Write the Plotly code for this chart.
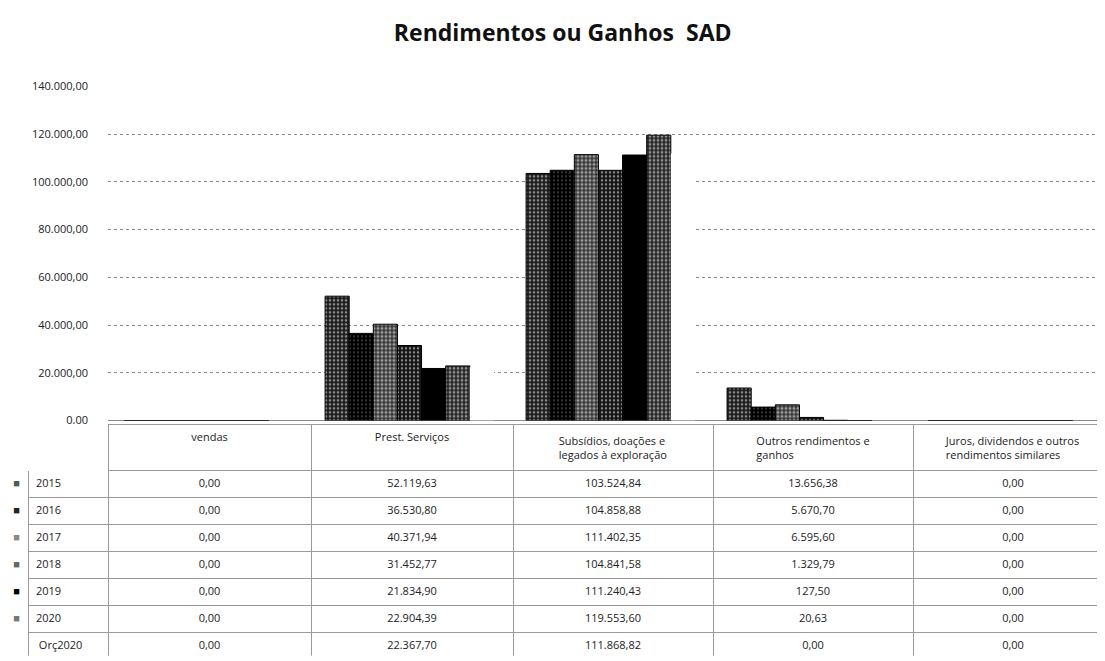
import plotly.graph_objects as go

CATEGORIAS = ['vendas', 'Prest. Serviços', 'Subsídios, doações e legados à exploração',
              'Outros rendimentos e ganhos', 'Juros, dividendos e outros rendimentos similares']
CABECALHOS = ['vendas', 'Prest. Serviços', 'Subsídios, doações e<br>legados à exploração',
              'Outros rendimentos e<br>ganhos', 'Juros, dividendos e outros<br>rendimentos similares']
ANOS = ['2015', '2016', '2017', '2018', '2019', '2020', 'Orç2020']

V2015 = [0.00, 52119.63, 103524.84, 13656.38, 0.00]
V2016 = [0.00, 36530.80, 104858.88, 5670.70, 0.00]
V2017 = [0.00, 40371.94, 111402.35, 6595.60, 0.00]
V2018 = [0.00, 31452.77, 104841.58, 1329.79, 0.00]
V2019 = [0.00, 21834.90, 111240.43, 127.50, 0.00]
V2020 = [0.00, 22904.39, 119553.60, 20.63, 0.00]
ORC2020 = [0.00, 22367.70, 111868.82, 0.00, 0.00]

SERIES = [V2015, V2016, V2017, V2018, V2019, V2020, ORC2020]

# tons de cinza / padrões que imitam o pontilhado do original
ESTILOS = [
    dict(bg='#1a1a1a', fg='#ffffff', sol=0.35, chave='#555555'),
    dict(bg='#000000', fg='#ffffff', sol=0.12, chave='#222222'),
    dict(bg='#333333', fg='#ffffff', sol=0.5, chave='#888888'),
    dict(bg='#111111', fg='#ffffff', sol=0.3, chave='#666666'),
    dict(bg='#000000', fg='#000000', sol=0.0, chave='#000000'),
    dict(bg='#222222', fg='#ffffff', sol=0.4, chave='#777777'),
    None,
]

W, H = 1105, 661
FONTE = 'Open Sans'


def fmt(v):
    s = f'{v:,.2f}'
    return s.replace(',', 'X').replace('.', ',').replace('X', '.')


fig = go.Figure()

for ano, vals, est in zip(ANOS, SERIES, ESTILOS):
    if est is None:
        marker = dict(color='white', line=dict(width=0))
    elif est['sol'] == 0:
        marker = dict(color=est['bg'], line=dict(color='black', width=1))
    else:
        marker = dict(color=est['bg'], line=dict(color='black', width=1),
                      pattern=dict(shape='.', fgcolor=est['fg'], bgcolor=est['bg'],
                                   size=4, solidity=est['sol'], fillmode='overlay'))
    fig.add_trace(go.Bar(x=CATEGORIAS, y=vals, name=ano, marker=marker,
                         xaxis='x', yaxis='y'))

# tabela de dados por baixo do gráfico: chave da legenda, ano, valores
chaves = ['■' if est else '' for est in ESTILOS]
cores_chave = [est['chave'] if est else 'white' for est in ESTILOS]
anos_txt = [a if a != 'Orç2020' else ' Orç2020' for a in ANOS]

colunas = [chaves, anos_txt]
for i in range(len(CATEGORIAS)):
    colunas.append([fmt(s[i]) for s in SERIES])

cor_txt = '#222'
linha = '#9a9a9a'
fig.add_trace(go.Table(
    domain=dict(x=[0, 1], y=[6 / H, 1 - 418 / H]),
    columnwidth=[20, 80, 203, 202, 200, 200, 200],
    header=dict(values=['', ''] + CABECALHOS, height=46,
                fill_color='white', line=dict(color=['white', 'white'] + [linha] * 5, width=1),
                font=dict(family=FONTE, size=11, color=cor_txt), align='center'),
    cells=dict(values=colunas, height=27, fill_color='white',
               line=dict(color=['white'] + [linha] * 6, width=1),
               font=dict(family=FONTE, size=11,
                         color=[cores_chave, cor_txt, cor_txt, cor_txt, cor_txt, cor_txt, cor_txt]),
               align=['right', 'left', 'center', 'center', 'center', 'center', 'center']),
))

fig.update_layout(
    width=W, height=H,
    margin=dict(l=0, r=0, t=0, b=0),
    paper_bgcolor='white', plot_bgcolor='white',
    separators=',.',
    showlegend=False,
    barmode='group', bargap=0.16, bargroupgap=0,
    title=dict(text='<b>Rendimentos ou Ganhos  SAD</b>', x=0.502, xanchor='center',
               y=1 - 25 / H, yanchor='middle',
               font=dict(family=FONTE, size=23, color='#111')),
    font=dict(family=FONTE, size=11, color=cor_txt),
    xaxis=dict(domain=[100 / W, 1], showticklabels=False, showgrid=False,
               zeroline=False, showline=False),
    yaxis=dict(domain=[1 - 414 / H, 1 - 72 / H], range=[0, 140000], dtick=20000,
               tickformat=',.2f', showgrid=True, gridcolor='#8a8a8a', griddash='dot',
               gridwidth=1, zeroline=True, zerolinecolor='#8a8a8a', zerolinewidth=1,
               showline=False, ticks='', ticklabelstandoff=19,
               tickfont=dict(family=FONTE, size=11, color=cor_txt)),
)

fig.write_html('out.html')
